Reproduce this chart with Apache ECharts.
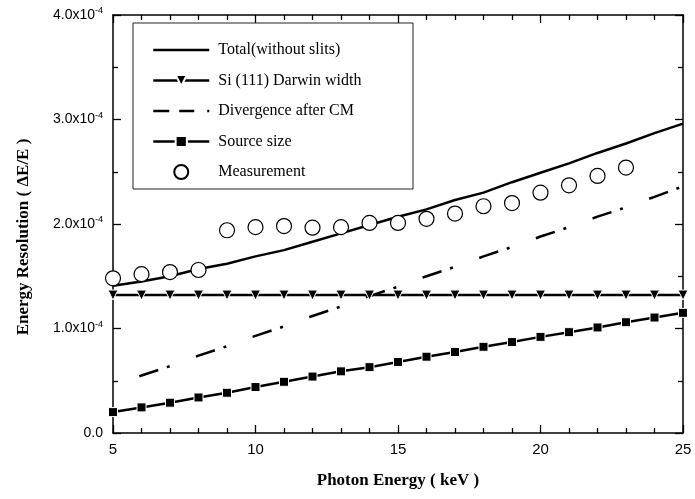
<!DOCTYPE html>
<html><head><meta charset="utf-8">
<script src="https://cdn.jsdelivr.net/npm/echarts@6/dist/echarts.min.js"></script>
<style>html,body{margin:0;padding:0;background:#fff}#c{width:695px;height:499px}</style>
</head><body><div id="c"></div>
<script>
// values in units of 1e-4
const energy = [5,6,7,8,9,10,11,12,13,14,15,16,17,18,19,20,21,22,23,24,25];
const total = [1.41,1.45,1.50,1.57,1.62,1.69,1.75,1.83,1.91,1.99,2.07,2.14,2.23,2.30,2.40,2.49,2.58,2.68,2.77,2.87,2.96];
const darwin = [1.32,1.32,1.32,1.32,1.32,1.32,1.32,1.32,1.32,1.32,1.32,1.32,1.32,1.32,1.32,1.32,1.32,1.32,1.32,1.32,1.32];
const divergence = [0.45,0.55,0.64,0.74,0.83,0.93,1.02,1.12,1.21,1.31,1.40,1.50,1.59,1.69,1.78,1.88,1.97,2.07,2.16,2.26,2.36];
const source = [0.20,0.245,0.29,0.34,0.385,0.44,0.49,0.54,0.59,0.63,0.68,0.73,0.775,0.825,0.87,0.92,0.965,1.01,1.06,1.105,1.15];
const measEnergy = [5,6,7,8,9,10,11,12,13,14,15,16,17,18,19,20,21,22,23];
const measurement = [1.48,1.52,1.54,1.56,1.94,1.97,1.98,1.965,1.97,2.01,2.01,2.05,2.10,2.17,2.20,2.30,2.37,2.46,2.54];
const xTicks = [5,10,15,20,25];
const yTicks = [0,1,2,3,4];
const seriesNames = ['Total(without slits)','Si (111) Darwin width','Divergence after CM','Source size','Measurement'];

const pair = (xs, ys) => xs.map((x,i)=>[x, ys[i]]);
const chart = echarts.init(document.getElementById('c'), null, {renderer:'canvas'});
const axisCommon = {
  axisLine:{show:true,onZero:false,lineStyle:{color:'#000',width:1.5}},
  axisTick:{show:true,inside:true,length:8,lineStyle:{color:'#000',width:1.3}},
  minorTick:{show:true,length:5,lineStyle:{color:'#000',width:1.3}},
  splitLine:{show:false}
};
const hidden = {opacity:0,color:'transparent',borderWidth:0};
const option = {
  animation:false,
  backgroundColor:'#fff',
  grid:{left:113,right:12,top:15,bottom:66,containLabel:false},
  xAxis:[
    Object.assign({type:'value',position:'bottom',min:xTicks[0],max:xTicks[xTicks.length-1],interval:5,
      axisLabel:{color:'#000',fontFamily:'Liberation Sans, Arial',fontSize:15,margin:9},
      name:'Photon Energy ( keV )',nameLocation:'middle',nameGap:39,
      nameTextStyle:{color:'#000',fontFamily:'Liberation Serif, Times New Roman',fontWeight:'bold',fontSize:17}},
      axisCommon,{minorTick:Object.assign({},axisCommon.minorTick,{splitNumber:5})}),
    Object.assign({type:'value',position:'top',min:5,max:25,interval:5,axisLabel:{show:false}},
      axisCommon,{minorTick:Object.assign({},axisCommon.minorTick,{splitNumber:5})})
  ],
  yAxis:[
    Object.assign({type:'value',position:'left',min:yTicks[0],max:yTicks[yTicks.length-1],interval:1,
      axisLabel:{margin:10,formatter:function(v){
          if (Math.abs(v)<1e-9) return '{a|0.0}';
          return '{a|'+v.toFixed(1)+'x10}{b|-4}';
        },
        rich:{a:{color:'#000',fontFamily:'Liberation Sans, Arial',fontSize:14},
              b:{color:'#000',fontFamily:'Liberation Sans, Arial',fontSize:9,verticalAlign:'top',padding:[0,0,8,0]}}}},
      axisCommon,{minorTick:Object.assign({},axisCommon.minorTick,{splitNumber:2})}),
    Object.assign({type:'value',position:'right',min:0,max:4,interval:1,axisLabel:{show:false}},
      axisCommon,{minorTick:Object.assign({},axisCommon.minorTick,{splitNumber:2})})
  ],
  legend:{
    show:true,orient:'vertical',left:147,top:37,
    itemWidth:56,itemHeight:14,itemGap:14.5,
    lineStyle:{width:2.5,color:'#000'},
    data:[
      {name:seriesNames[0],itemStyle:hidden},
      {name:seriesNames[1]},
      {name:seriesNames[2],itemStyle:hidden,lineStyle:{width:2.5,type:[16,10,15,13,3,30],dashOffset:0}},
      {name:seriesNames[3]},
      {name:seriesNames[4]}
    ],
    textStyle:{color:'#000',fontFamily:'Liberation Serif, Times New Roman',fontSize:16,lineHeight:16,padding:[0,0,0,4]},
    z:10
  },
  graphic:[
    {type:'rect',shape:{x:133,y:23,width:280,height:166},style:{fill:'#fff',stroke:'#222',lineWidth:1},z:5},
    {type:'text',x:24,y:237,rotation:Math.PI/2,
     style:{text:'Energy Resolution ( ΔE/E )',fill:'#000',font:'bold 17px "Liberation Serif", "Times New Roman"',align:'center',verticalAlign:'middle'}}
  ],
  series:[
    {name:seriesNames[0],type:'line',data:pair(energy,total),showSymbol:false,symbol:'none',
      lineStyle:{color:'#000',width:2.5},itemStyle:{color:'#000'},z:2},
    {name:seriesNames[1],type:'line',data:pair(energy,darwin),symbol:'triangle',symbolRotate:180,symbolSize:10,
      lineStyle:{color:'#000',width:2.5},itemStyle:{color:'#000',borderColor:'#fff',borderWidth:1},z:2},
    {name:seriesNames[2],type:'line',data:pair(energy,divergence),symbol:'none',
      lineStyle:{color:'#000',width:2.5,type:[20,9,3,28],dashOffset:32},itemStyle:{color:'#000'},z:2},
    {name:seriesNames[3],type:'line',data:pair(energy,source),symbol:'rect',symbolSize:9,
      lineStyle:{color:'#000',width:2.5},itemStyle:{color:'#000',borderColor:'#fff',borderWidth:1},z:2},
    {name:seriesNames[4],type:'scatter',data:pair(measEnergy,measurement),symbol:'circle',symbolSize:15,
      itemStyle:{color:'#fff',borderColor:'#000',borderWidth:1.2,opacity:1},z:3}
  ]
};
chart.setOption(option);
</script></body></html>
